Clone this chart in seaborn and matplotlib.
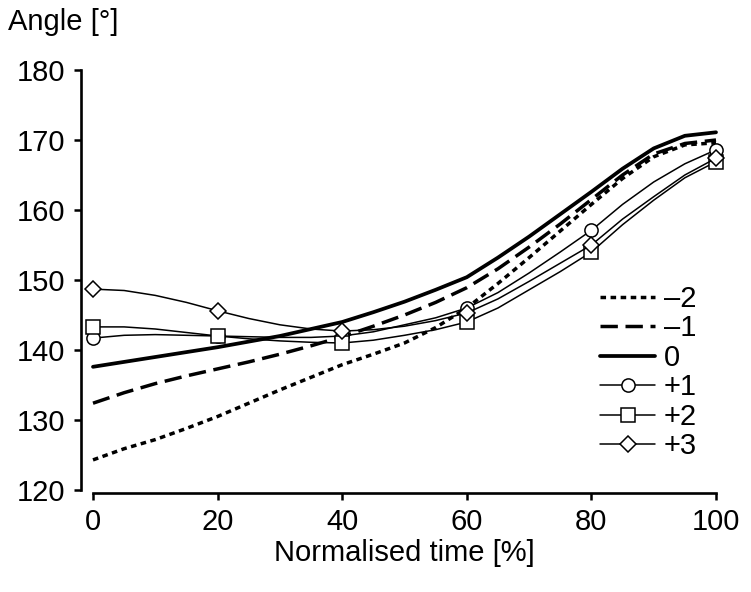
import matplotlib
matplotlib.use("Agg")
import matplotlib.pyplot as plt
import seaborn as sns

# Data
time_pct = [0, 5, 10, 15, 20, 25, 30, 35, 40, 45, 50, 55, 60, 65, 70, 75, 80, 85, 90, 95, 100]
s_m2 = [124.3, 125.9, 127.2, 128.8, 130.5, 132.4, 134.3, 136.1, 137.9, 139.4, 141.0,
        143.2, 146.0, 149.5, 153.2, 157.0, 160.8, 164.5, 167.6, 169.3, 169.6]
s_m1 = [132.4, 133.9, 135.2, 136.3, 137.3, 138.3, 139.4, 140.6, 141.9, 143.4, 145.0,
        146.8, 148.9, 151.6, 154.7, 158.0, 161.5, 165.0, 168.0, 169.5, 170.0]
s_0 = [137.6, 138.3, 139.0, 139.7, 140.4, 141.2, 142.0, 143.0, 144.0, 145.4, 146.9,
       148.6, 150.4, 153.2, 156.2, 159.4, 162.6, 165.9, 168.8, 170.6, 171.1]
s_p1 = [141.7, 142.1, 142.2, 142.1, 142.0, 141.9, 141.8, 141.8, 142.0, 142.6, 143.6,
        144.6, 146.0, 148.2, 151.0, 154.0, 157.1, 160.8, 164.0, 166.6, 168.6]
s_p2 = [143.3, 143.3, 143.0, 142.5, 142.0, 141.6, 141.3, 141.1, 141.0, 141.4, 142.1,
        142.9, 144.0, 146.0, 148.6, 151.2, 154.0, 157.9, 161.4, 164.6, 166.9]
s_p3 = [148.7, 148.5, 147.8, 146.8, 145.6, 144.5, 143.6, 143.0, 142.7, 142.9, 143.4,
        144.2, 145.3, 147.3, 149.8, 152.4, 155.0, 158.7, 161.9, 165.0, 167.4]
labels = ["\u20132", "\u20131", "0", "+1", "+2", "+3"]
x_ticks = [0, 20, 40, 60, 80, 100]
y_ticks = [120, 130, 140, 150, 160, 170, 180]

sns.set_style("ticks")
plt.rcParams["font.family"] = ["Liberation Sans", "DejaVu Sans"]
for k in ["text.color", "axes.labelcolor", "xtick.color", "ytick.color", "axes.edgecolor"]:
    plt.rcParams[k] = "black"

fig = plt.figure(figsize=(7.51, 5.92), dpi=100)
ax = fig.add_axes([93 / 751, 1 - 490 / 592, 623 / 751, 420 / 592])

series = [s_m2, s_m1, s_0, s_p1, s_p2, s_p3]
styles = [
    dict(lw=2.5, dashes=(1.6, 1.3), marker=None),
    dict(lw=2.5, dashes=(5.0, 2.2), marker=None),
    dict(lw=2.7, dashes=None, marker=None),
    dict(lw=1.1, dashes=None, marker="o", ms=9.5),
    dict(lw=1.1, dashes=None, marker="s", ms=9.5),
    dict(lw=1.1, dashes=None, marker="D", ms=8),
]

for vals, lab, st in zip(series, labels, styles):
    kw = dict(color="black", linewidth=st["lw"], label=lab, clip_on=False)
    if st["marker"]:
        kw.update(marker=st["marker"], markersize=st["ms"], markevery=4,
                  markerfacecolor="white", markeredgecolor="black",
                  markeredgewidth=1.1)
    sns.lineplot(x=time_pct, y=vals, ax=ax, **kw)
    if st["dashes"]:
        ax.lines[-1].set_dashes(st["dashes"])

ax.set_xlim(0, 100)
ax.set_ylim(120, 180)
ax.set_xticks(x_ticks)
ax.set_yticks(y_ticks)
ax.set_xlabel("Normalised time [%]", fontsize=21, labelpad=2)
ax.set_ylabel("")
ax.tick_params(axis="both", labelsize=21, width=1.8, length=5, color="black")
ax.tick_params(axis="y", pad=6)
ax.tick_params(axis="x", pad=6)

sns.despine(ax=ax, offset={"left": 9, "bottom": 2}, trim=True)
for sp in ["left", "bottom"]:
    ax.spines[sp].set_linewidth(1.9)
    ax.spines[sp].set_color("black")

fig.text(8 / 751, 1 - 22 / 592, "Angle [\u00b0]", fontsize=21, va="center", ha="left")

leg = ax.legend(loc="upper left", bbox_to_anchor=(0.795, 0.516), frameon=False,
                fontsize=21, handlelength=1.9, handletextpad=0.3,
                labelspacing=0.05, borderaxespad=0)

fig.savefig("out.png", dpi=100)
